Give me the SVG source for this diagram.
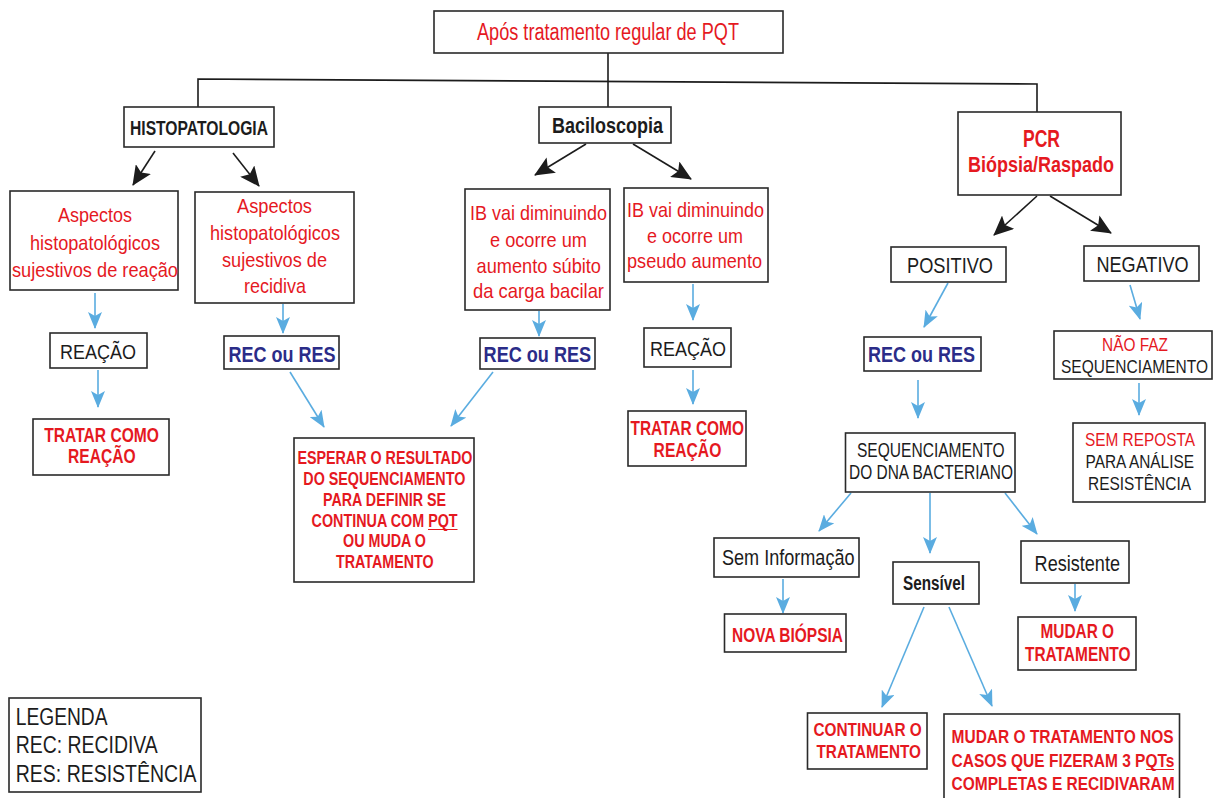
<svg xmlns="http://www.w3.org/2000/svg" width="1214" height="798" viewBox="0 0 1214 798">
<defs>
<style>
.box{fill:#fff;stroke:#2a2a2a;stroke-width:1.6}
text{font-family:"Liberation Sans Narrow","Liberation Sans",Arial,sans-serif}
.r{fill:#e5191f}.k{fill:#1c1c1c}.b{fill:#2b2c88}
.bd{font-weight:bold}
.ln{fill:none;stroke:#1c1c1c;stroke-width:1.6}
.ka{fill:none;stroke:#1c1c1c;stroke-width:1.6;marker-end:url(#ka)}
.ba{fill:none;stroke:#5aace0;stroke-width:1.6;marker-end:url(#ba)}
.ul{stroke:#e5191f;stroke-width:1}
</style>
<marker id="ka" viewBox="0 0 20 18" refX="19" refY="9" markerWidth="20" markerHeight="18" markerUnits="userSpaceOnUse" orient="auto">
<path d="M0,0 L20,9 L0,18 L4,9 Z" fill="#1c1c1c"/>
</marker>
<marker id="ba" viewBox="0 0 17 14" refX="16" refY="7" markerWidth="17" markerHeight="14" markerUnits="userSpaceOnUse" orient="auto">
<path d="M0,0 L17,7 L0,14 L4,7 Z" fill="#5aace0"/>
</marker>
</defs>
<rect width="1214" height="798" fill="#fff"/>

<g id="connectors">
<polyline class="ln" points="608,53 608,80"/>
<polyline class="ln" points="198,107 198,79 1037,84 1037,112"/>
<line class="ln" x1="608" y1="80" x2="608" y2="107"/>
<line class="ka" x1="155" y1="151" x2="133" y2="185"/>
<line class="ka" x1="233" y1="153" x2="259" y2="186"/>
<line class="ka" x1="586" y1="144" x2="535" y2="175"/>
<line class="ka" x1="633" y1="144" x2="691" y2="179"/>
<line class="ka" x1="1037" y1="196" x2="994" y2="235"/>
<line class="ka" x1="1050" y1="196" x2="1111" y2="233"/>
<line class="ba" x1="95" y1="293" x2="95" y2="328"/>
<line class="ba" x1="98" y1="370" x2="98" y2="407"/>
<line class="ba" x1="283" y1="304" x2="283" y2="333"/>
<line class="ba" x1="290" y1="372" x2="324" y2="427"/>
<line class="ba" x1="539" y1="311" x2="539" y2="336"/>
<line class="ba" x1="493" y1="372" x2="451" y2="426"/>
<line class="ba" x1="693" y1="284" x2="693" y2="320"/>
<line class="ba" x1="693" y1="370" x2="693" y2="404"/>
<line class="ba" x1="948" y1="283" x2="924" y2="327"/>
<line class="ba" x1="1130" y1="285" x2="1140" y2="319"/>
<line class="ba" x1="918" y1="380" x2="918" y2="418"/>
<line class="ba" x1="1139" y1="383" x2="1139" y2="415"/>
<line class="ba" x1="851" y1="493" x2="819" y2="531"/>
<line class="ba" x1="930" y1="493" x2="930" y2="553"/>
<line class="ba" x1="1005" y1="493" x2="1037" y2="534"/>
<line class="ba" x1="783" y1="579" x2="783" y2="613"/>
<line class="ba" x1="924" y1="607" x2="882" y2="707"/>
<line class="ba" x1="949" y1="607" x2="992" y2="706"/>
<line class="ba" x1="1075" y1="584" x2="1075" y2="611"/>
</g>

<g id="n-title"><rect class="box" x="434" y="11" width="349" height="42"/>
<text class="r" x="477" y="40" font-size="23" textLength="262" lengthAdjust="spacingAndGlyphs">Após tratamento regular de PQT</text></g>

<g id="n-histo"><rect class="box" x="124" y="107" width="150" height="40"/>
<text class="k bd" x="130" y="135" font-size="19.5" textLength="138" lengthAdjust="spacingAndGlyphs">HISTOPATOLOGIA</text></g>

<g id="n-bacil"><rect class="box" x="539" y="107" width="132" height="36"/>
<text class="k bd" x="552" y="133" font-size="22" textLength="111" lengthAdjust="spacingAndGlyphs">Baciloscopia</text></g>

<g id="n-pcr"><rect class="box" x="958" y="112" width="163" height="83"/>
<text class="r bd" x="1023" y="147" font-size="23" textLength="37" lengthAdjust="spacingAndGlyphs">PCR</text>
<text class="r bd" x="968" y="172" font-size="22" textLength="146" lengthAdjust="spacingAndGlyphs">Biópsia/Raspado</text></g>

<g id="n-asp-reacao"><rect class="box" x="10" y="191" width="168" height="99"/>
<text class="r" x="58" y="222" font-size="21" textLength="74" lengthAdjust="spacingAndGlyphs">Aspectos</text>
<text class="r" x="30" y="250" font-size="21" textLength="130" lengthAdjust="spacingAndGlyphs">histopatológicos</text>
<text class="r" x="12" y="277" font-size="21" textLength="166" lengthAdjust="spacingAndGlyphs">sujestivos de reação</text></g>

<g id="n-asp-recidiva"><rect class="box" x="195" y="192" width="159" height="111"/>
<text class="r" x="237" y="213" font-size="21" textLength="75" lengthAdjust="spacingAndGlyphs">Aspectos</text>
<text class="r" x="210" y="240" font-size="21" textLength="130" lengthAdjust="spacingAndGlyphs">histopatológicos</text>
<text class="r" x="222" y="267" font-size="21" textLength="105" lengthAdjust="spacingAndGlyphs">sujestivos de</text>
<text class="r" x="244" y="293" font-size="21" textLength="62" lengthAdjust="spacingAndGlyphs">recidiva</text></g>

<g id="n-ib-subito"><rect class="box" x="465" y="189" width="145" height="121"/>
<text class="r" x="470" y="220" font-size="21" textLength="137" lengthAdjust="spacingAndGlyphs">IB vai diminuindo</text>
<text class="r" x="490" y="247" font-size="21" textLength="97" lengthAdjust="spacingAndGlyphs">e ocorre um</text>
<text class="r" x="476.5" y="273" font-size="21" textLength="124.5" lengthAdjust="spacingAndGlyphs">aumento súbito</text>
<text class="r" x="473" y="298" font-size="21" textLength="131" lengthAdjust="spacingAndGlyphs">da carga bacilar</text></g>

<g id="n-ib-pseudo"><rect class="box" x="624" y="188" width="144" height="94"/>
<text class="r" x="627" y="217" font-size="21" textLength="137" lengthAdjust="spacingAndGlyphs">IB vai diminuindo</text>
<text class="r" x="647" y="243" font-size="21" textLength="96" lengthAdjust="spacingAndGlyphs">e ocorre um</text>
<text class="r" x="627" y="268" font-size="21" textLength="135" lengthAdjust="spacingAndGlyphs">pseudo aumento</text></g>

<g id="n-positivo"><rect class="box" x="891" y="247" width="115" height="35"/>
<text class="k" x="907" y="273" font-size="22" textLength="86" lengthAdjust="spacingAndGlyphs">POSITIVO</text></g>

<g id="n-negativo"><rect class="box" x="1084" y="246" width="115" height="35"/>
<text class="k" x="1096.5" y="272" font-size="22" textLength="92" lengthAdjust="spacingAndGlyphs">NEGATIVO</text></g>

<g id="n-reacao1"><rect class="box" x="50" y="333" width="97" height="35"/>
<text class="k" x="60" y="359" font-size="21" textLength="76" lengthAdjust="spacingAndGlyphs">REAÇÃO</text></g>

<g id="n-recres1"><rect class="box" x="224" y="336" width="115" height="33"/>
<text class="b bd" x="228.5" y="362" font-size="22" textLength="107" lengthAdjust="spacingAndGlyphs">REC ou RES</text></g>

<g id="n-recres2"><rect class="box" x="480" y="338" width="115" height="31"/>
<text class="b bd" x="483.6" y="362" font-size="22" textLength="107.5" lengthAdjust="spacingAndGlyphs">REC ou RES</text></g>

<g id="n-reacao2"><rect class="box" x="644" y="328" width="87" height="39"/>
<text class="k" x="650" y="356" font-size="21" textLength="76" lengthAdjust="spacingAndGlyphs">REAÇÃO</text></g>

<g id="n-recres3"><rect class="box" x="864" y="337" width="117" height="34"/>
<text class="b bd" x="868" y="362" font-size="22" textLength="107" lengthAdjust="spacingAndGlyphs">REC ou RES</text></g>

<g id="n-naofaz"><rect class="box" x="1054" y="331" width="158" height="48"/>
<text class="r" transform="matrix(0.8 0 0 1 1102 351)" x="0" y="0" font-size="19" textLength="82.5" lengthAdjust="spacingAndGlyphs">NÃO FAZ</text>
<text class="k" transform="matrix(0.8 0 0 1 1061 373)" x="0" y="0" font-size="19" textLength="183.75" lengthAdjust="spacingAndGlyphs">SEQUENCIAMENTO</text></g>

<g id="n-tratar1"><rect class="box" x="33" y="419" width="136" height="56"/>
<text class="r bd" x="44.3" y="442" font-size="20" textLength="114.7" lengthAdjust="spacingAndGlyphs">TRATAR COMO</text>
<text class="r bd" x="68" y="463" font-size="20" textLength="67.6" lengthAdjust="spacingAndGlyphs">REAÇÃO</text></g>

<g id="n-esperar"><rect class="box" x="294" y="438" width="180" height="144"/>
<text class="r bd" x="297.4" y="464" font-size="17.7" textLength="175" lengthAdjust="spacingAndGlyphs">ESPERAR O RESULTADO</text>
<text class="r bd" x="303.3" y="485" font-size="17.7" textLength="162" lengthAdjust="spacingAndGlyphs">DO SEQUENCIAMENTO</text>
<text class="r bd" x="323" y="506" font-size="17.7" textLength="123" lengthAdjust="spacingAndGlyphs">PARA DEFINIR SE</text>
<text class="r bd" x="311.6" y="527" font-size="17.7" textLength="146" lengthAdjust="spacingAndGlyphs">CONTINUA COM PQT</text>
<line class="ul" x1="428" y1="529.5" x2="457.5" y2="529.5"/>
<text class="r bd" x="343" y="547" font-size="17.7" textLength="83" lengthAdjust="spacingAndGlyphs">OU MUDA O</text>
<text class="r bd" x="336" y="568" font-size="17.7" textLength="97.7" lengthAdjust="spacingAndGlyphs">TRATAMENTO</text></g>

<g id="n-tratar2"><rect class="box" x="628" y="411" width="118" height="55"/>
<text class="r bd" x="630.5" y="435" font-size="20" textLength="113.5" lengthAdjust="spacingAndGlyphs">TRATAR COMO</text>
<text class="r bd" x="653.6" y="457" font-size="20" textLength="67.7" lengthAdjust="spacingAndGlyphs">REAÇÃO</text></g>

<g id="n-seq"><rect class="box" x="845.5" y="433" width="169.5" height="59"/>
<text class="k" x="857" y="457" font-size="20" textLength="147.5" lengthAdjust="spacingAndGlyphs">SEQUENCIAMENTO</text>
<text class="k" x="849" y="479" font-size="20" textLength="164" lengthAdjust="spacingAndGlyphs">DO DNA BACTERIANO</text></g>

<g id="n-semreposta"><rect class="box" x="1073" y="423" width="132" height="79"/>
<text class="r" transform="matrix(0.8 0 0 1 1085 446)" x="0" y="0" font-size="19" textLength="137.5" lengthAdjust="spacingAndGlyphs">SEM REPOSTA</text>
<text class="k" transform="matrix(0.8 0 0 1 1085.5 468)" x="0" y="0" font-size="19" textLength="135.6" lengthAdjust="spacingAndGlyphs">PARA ANÁLISE</text>
<text class="k" transform="matrix(0.8 0 0 1 1088 490)" x="0" y="0" font-size="19" textLength="128.75" lengthAdjust="spacingAndGlyphs">RESISTÊNCIA</text></g>

<g id="n-seminfo"><rect class="box" x="714" y="538" width="145" height="39"/>
<text class="k" x="722" y="565" font-size="22" textLength="132.5" lengthAdjust="spacingAndGlyphs">Sem Informação</text></g>

<g id="n-sensivel"><rect class="box" x="893" y="562" width="86" height="42"/>
<text class="k bd" x="903" y="590" font-size="20" textLength="62" lengthAdjust="spacingAndGlyphs">Sensível</text></g>

<g id="n-resistente"><rect class="box" x="1021" y="541" width="108" height="42"/>
<text class="k" x="1034.6" y="571" font-size="22" textLength="85.4" lengthAdjust="spacingAndGlyphs">Resistente</text></g>

<g id="n-nova"><rect class="box" x="724.5" y="614" width="121.5" height="38"/>
<text class="r bd" x="732" y="642" font-size="19.5" textLength="111" lengthAdjust="spacingAndGlyphs">NOVA BIÓPSIA</text></g>

<g id="n-mudar"><rect class="box" x="1018" y="617" width="118" height="53"/>
<text class="r bd" x="1040.5" y="638" font-size="19.5" textLength="73.5" lengthAdjust="spacingAndGlyphs">MUDAR O</text>
<text class="r bd" x="1025" y="661" font-size="19.5" textLength="105.5" lengthAdjust="spacingAndGlyphs">TRATAMENTO</text></g>

<g id="n-continuar"><rect class="box" x="807.5" y="713" width="119.5" height="56"/>
<text class="r bd" x="813.4" y="736" font-size="19" textLength="108.4" lengthAdjust="spacingAndGlyphs">CONTINUAR O</text>
<text class="r bd" x="816.5" y="758" font-size="19" textLength="104.5" lengthAdjust="spacingAndGlyphs">TRATAMENTO</text></g>

<g id="n-mudar-nos"><rect class="box" x="944" y="714" width="235.5" height="92"/>
<text class="r bd" transform="matrix(0.8 0 0 1 951.6 743)" x="0" y="0" font-size="18.6" textLength="277.5" lengthAdjust="spacingAndGlyphs">MUDAR O TRATAMENTO NOS</text>
<text class="r bd" transform="matrix(0.8 0 0 1 951.6 767)" x="0" y="0" font-size="18.6" textLength="278.5" lengthAdjust="spacingAndGlyphs">CASOS QUE FIZERAM 3 PQTs</text>
<line class="ul" x1="1146" y1="769.5" x2="1174" y2="769.5"/>
<text class="r bd" transform="matrix(0.8 0 0 1 951.6 790)" x="0" y="0" font-size="18.6" textLength="278.75" lengthAdjust="spacingAndGlyphs">COMPLETAS E RECIDIVARAM</text></g>

<g id="n-legenda"><rect class="box" x="9" y="698" width="192" height="94"/>
<text class="k" x="15.8" y="725" font-size="23" textLength="91.7" lengthAdjust="spacingAndGlyphs">LEGENDA</text>
<text class="k" x="15.8" y="753" font-size="23" textLength="142" lengthAdjust="spacingAndGlyphs">REC: RECIDIVA</text>
<text class="k" x="15.8" y="782" font-size="23" textLength="180.7" lengthAdjust="spacingAndGlyphs">RES: RESISTÊNCIA</text></g>
</svg>
